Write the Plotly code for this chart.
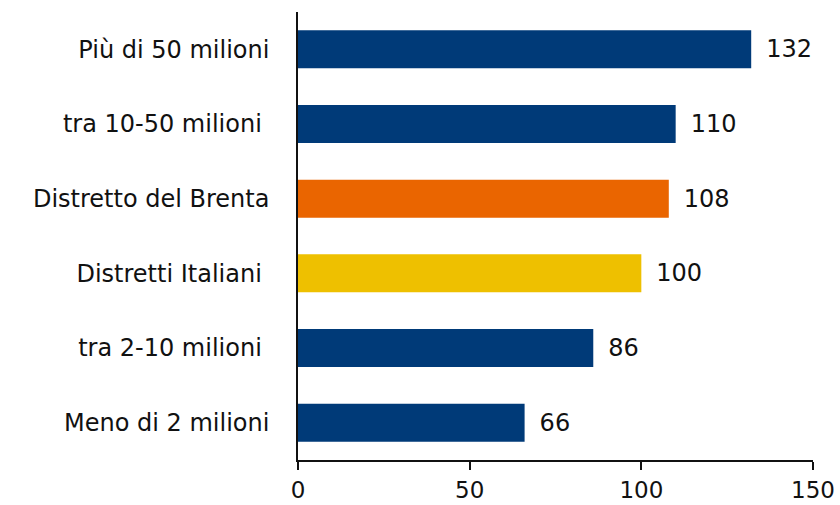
import plotly.graph_objects as go

categories = ["Meno di 2 milioni", "tra 2-10 milioni\u00a0", "Distretti Italiani\u00a0",
              "Distretto del Brenta", "tra 10-50 milioni\u00a0", "Più di 50 milioni"]
values = [66, 86, 100, 108, 110, 132]
colors = ["#003A78", "#003A78", "#EEC000", "#EA6500", "#003A78", "#003A78"]
tick_vals = [0, 50, 100, 150]

FONT = "DejaVu Sans, sans-serif"
FS = 24

fig = go.Figure(go.Bar(
    x=values, y=categories, orientation="h",
    marker=dict(color=colors, line=dict(width=0)),
    width=0.51,
    text=values,
    texttemplate="\u2002%{x}",
    textposition="outside",
    textfont=dict(size=FS, color="#111111"),
    cliponaxis=False,
    hoverinfo="skip",
))

fig.update_layout(
    width=840, height=505,
    margin=dict(l=298, r=27, t=12, b=45),
    paper_bgcolor="white", plot_bgcolor="white",
    font=dict(family=FONT, size=FS, color="#111111"),
    showlegend=False,
)
fig.update_xaxes(
    range=[0, 150], tickvals=tick_vals, showgrid=False, zeroline=False,
    showline=True, linecolor="#111111", linewidth=1.5,
    ticks="outside", ticklen=8, tickcolor="#111111", tickwidth=1.5,
    tickfont=dict(size=23), automargin=False, ticklabelstandoff=1,
)
fig.update_yaxes(
    showgrid=False, zeroline=False, showline=True, linecolor="#111111", linewidth=1.5,
    ticks="", ticklabelstandoff=22, tickfont=dict(size=FS), automargin=False,
)

fig.write_html("out.html", config={"displayModeBar": False},
               post_script="document.body.style.margin='0';document.body.style.padding='0';")
